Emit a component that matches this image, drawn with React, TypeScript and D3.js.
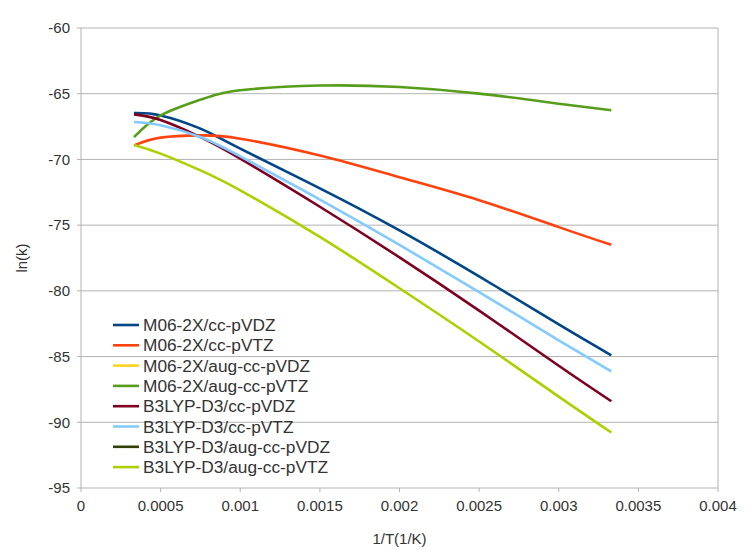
import React from "react";
import * as d3 from "d3";

const xValues = [0.000333, 0.0005, 0.00075, 0.001, 0.0015, 0.002, 0.0025, 0.003, 0.00333];

const seriesNames = [
  "M06-2X/cc-pVDZ",
  "M06-2X/cc-pVTZ",
  "M06-2X/aug-cc-pVDZ",
  "M06-2X/aug-cc-pVTZ",
  "B3LYP-D3/cc-pVDZ",
  "B3LYP-D3/cc-pVTZ",
  "B3LYP-D3/aug-cc-pVDZ",
  "B3LYP-D3/aug-cc-pVTZ",
];

const seriesColors = ["#004586", "#ff420e", "#ffd320", "#579d1c", "#7e0021", "#83caff", "#314004", "#aecf00"];

const m062xVdz = [-66.47, -66.65, -67.66, -69.18, -72.2, -75.4, -78.9, -82.55, -84.9];
const m062xVtz = [-68.93, -68.34, -68.17, -68.42, -69.7, -71.35, -73.1, -75.15, -76.5];
const m062xAugVdz: number[] = [];
const m062xAugVtz = [-68.3, -66.65, -65.45, -64.74, -64.38, -64.49, -64.99, -65.76, -66.26];
const b3lypVdz = [-66.57, -67.0, -68.3, -69.94, -73.6, -77.45, -81.5, -85.7, -88.4];
const b3lypVtz = [-67.15, -67.4, -68.3, -69.77, -73.05, -76.5, -80.1, -83.76, -86.13];
const b3lypAugVdz: number[] = [];
const b3lypAugVtz = [-68.9, -69.56, -70.83, -72.35, -75.9, -79.8, -83.85, -88.05, -90.78];

const seriesValues = [m062xVdz, m062xVtz, m062xAugVdz, m062xAugVtz, b3lypVdz, b3lypVtz, b3lypAugVdz, b3lypAugVtz];

const xTicks = [0, 0.0005, 0.001, 0.0015, 0.002, 0.0025, 0.003, 0.0035, 0.004];
const xTickLabels = ["0", "0.0005", "0.001", "0.0015", "0.002", "0.0025", "0.003", "0.0035", "0.004"];
const yTicks = [-60, -65, -70, -75, -80, -85, -90, -95];

const W = 749;
const H = 549;
const plot = { left: 81, right: 718, top: 28, bottom: 488 };
const font = "'Liberation Sans', Arial, sans-serif";

export default function App() {
  const x = d3.scaleLinear().domain([0, 0.004]).range([plot.left, plot.right]);
  const y = d3.scaleLinear().domain([-95, -60]).range([plot.bottom, plot.top]);
  const line = d3
    .line<[number, number]>()
    .x((d) => x(d[0]))
    .y((d) => y(d[1]))
    .curve(d3.curveNatural);

  const grid = "#b3b3b3";

  return (
    <div style={{ position: "absolute", left: 0, top: 0 }}>
      <svg width={W} height={H} style={{ display: "block", background: "#fff" }}>
        <rect x={0} y={0} width={W} height={H} fill="#fff" />
        {yTicks.map((t) => (
          <g key={t}>
            <line x1={plot.left - 4} x2={plot.right} y1={y(t)} y2={y(t)} stroke={grid} strokeWidth={1} />
            <text
              x={plot.left - 11}
              y={y(t)}
              dy="0.35em"
              textAnchor="end"
              fontFamily={font}
              fontSize={15}
              fill="#333"
            >
              {t}
            </text>
          </g>
        ))}
        <line x1={plot.left} x2={plot.left} y1={plot.top} y2={plot.bottom} stroke={grid} strokeWidth={1} />
        <line x1={plot.right} x2={plot.right} y1={plot.top} y2={plot.bottom} stroke={grid} strokeWidth={1} />
        {xTicks.map((t, i) => (
          <g key={t}>
            <line x1={x(t)} x2={x(t)} y1={plot.bottom} y2={plot.bottom + 4} stroke={grid} strokeWidth={1} />
            <text
              x={x(t)}
              y={plot.bottom + 18}
              dy="0.35em"
              textAnchor="middle"
              fontFamily={font}
              fontSize={15}
              fill="#333"
            >
              {xTickLabels[i]}
            </text>
          </g>
        ))}
        <text
          x={(plot.left + plot.right) / 2}
          y={539}
          dy="0.35em"
          textAnchor="middle"
          fontFamily={font}
          fontSize={15}
          fill="#333"
        >
          1/T(1/K)
        </text>
        <text
          transform={`translate(22,${(plot.top + plot.bottom) / 2}) rotate(-90)`}
          dy="0.35em"
          textAnchor="middle"
          fontFamily={font}
          fontSize={15}
          fill="#333"
        >
          ln(k)
        </text>
        {seriesValues.map((vals, si) =>
          vals.length ? (
            <path
              key={si}
              d={line(vals.map((v, i) => [xValues[i], v] as [number, number])) || ""}
              fill="none"
              stroke={seriesColors[si]}
              strokeWidth={2.6}
            />
          ) : null
        )}
        {seriesNames.map((name, i) => (
          <g key={name} transform={`translate(113,${325 + i * 20.3})`}>
            <line x1={0} x2={26} y1={0} y2={0} stroke={seriesColors[i]} strokeWidth={2.6} />
            <text x={30} y={0} dy="0.35em" fontFamily={font} fontSize={17.3} fill="#333">
              {name}
            </text>
          </g>
        ))}
      </svg>
    </div>
  );
}
